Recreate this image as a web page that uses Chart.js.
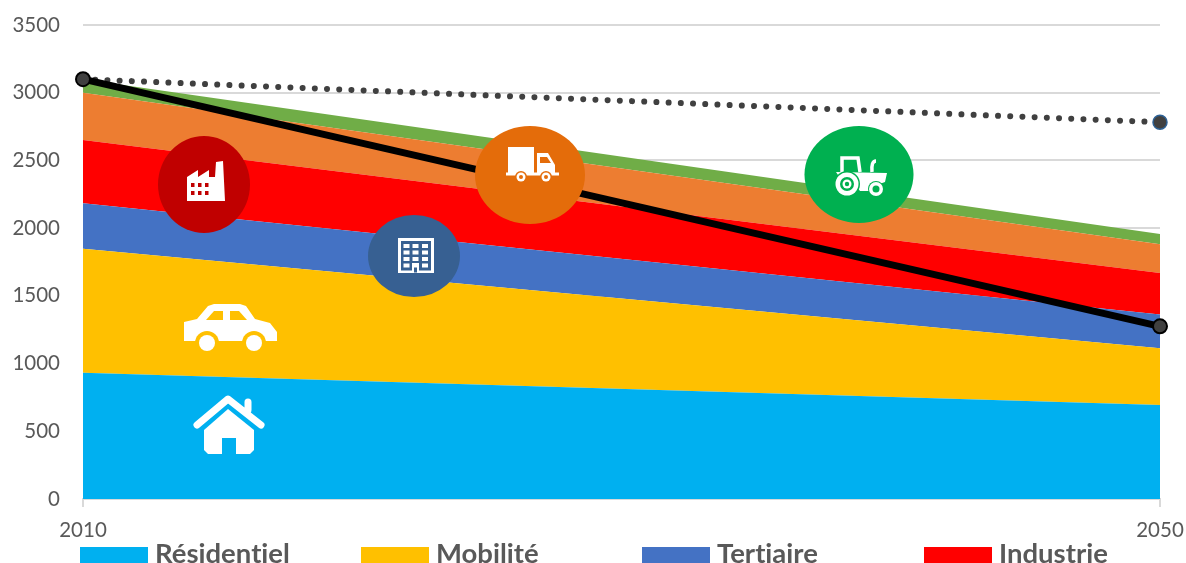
<!DOCTYPE html>
<html lang="fr">
<head>
  <meta charset="UTF-8" />
  <title>Consommation par secteur</title>
  <script src="https://cdn.jsdelivr.net/npm/chart.js"></script>
  <style>
    body {
      margin: 0;
      background: #ffffff;
      font-family: Lato, sans-serif;
      overflow: hidden;
    }

    #wrap {
      position: relative;
      width: 1186px;
      height: 563px;
    }

    canvas {
      position: absolute;
      left: 0;
      top: 0;
    }

    .legend-item {
      position: absolute;
      top: 539px;
      height: 28px;
      line-height: 28px;
      font-size: 27.5px;
      font-weight: 700;
      font-variant-ligatures: none;
      color: #595959;
      white-space: nowrap;
    }

    .legend-item i {
      display: inline-block;
      width: 68px;
      height: 17px;
      margin-right: 7px;
      vertical-align: -1px;
    }
  </style>
</head>
<body>
  <div id="wrap">
    <canvas id="chart" width="1186" height="563"></canvas>
  </div>

  <script>
    const years = ['2010', '2050'];
    const yTicks = [0, 500, 1000, 1500, 2000, 2500, 3000, 3500];

    // layers of the stack, from the bottom up
    const residentiel = [932, 695];
    const mobilite = [915, 418];
    const tertiaire = [337, 250];
    const industrie = [466, 305];
    const transport = [350, 213];
    const agriculture = [100, 75];

    const trajectoire = [3100, 1275];
    const tendanciel = [3100, 2782];

    const legendNames = ['Résidentiel', 'Mobilité', 'Tertiaire', 'Industrie'];
    const legendColors = ['#00b0f0', '#ffc000', '#4472c4', '#ff0000'];
    const legendLeft = [80, 361, 642, 924];

    legendNames.forEach((name, i) => {
      const item = document.createElement('div');
      item.className = 'legend-item';
      item.style.left = legendLeft[i] + 'px';
      item.innerHTML = `<i style="background:${legendColors[i]}"></i>${name}`;
      document.getElementById('wrap').appendChild(item);
    });

    function area(label, data, color, fill) {
      return { label, data, fill, backgroundColor: color, borderWidth: 0, pointRadius: 0, tension: 0, order: 3, stack: 'secteurs' };
    }

    function ellipse(ctx, x, y, rx, ry, color) {
      ctx.fillStyle = color;
      ctx.beginPath();
      ctx.ellipse(x, y, rx, ry, 0, 0, Math.PI * 2);
      ctx.fill();
    }

    function poly(ctx, pts, color) {
      ctx.fillStyle = color;
      ctx.beginPath();
      pts.forEach((p, i) => (i ? ctx.lineTo(p[0], p[1]) : ctx.moveTo(p[0], p[1])));
      ctx.closePath();
      ctx.fill();
    }

    function drawHouse(ctx) {
      const blue = '#00b0f0';
      ctx.strokeStyle = '#fff';
      ctx.lineCap = 'round';
      ctx.lineJoin = 'round';
      ctx.lineWidth = 7;
      ctx.beginPath();
      ctx.moveTo(197, 425);
      ctx.lineTo(228, 399);
      ctx.lineTo(261, 425);
      ctx.moveTo(248, 402);
      ctx.lineTo(248, 410);
      ctx.stroke();
      poly(ctx, [[228, 409], [254, 430], [254, 450], [250, 454], [208, 454], [204, 450], [204, 430]], '#fff');
      ctx.fillStyle = blue;
      ctx.fillRect(222, 438, 14, 16);
    }

    function drawCar(ctx) {
      const yellow = '#ffc000';
      poly(ctx, [[184, 322], [197, 319], [208, 306], [214, 304], [240, 304], [246, 306], [255, 319], [270, 323], [277, 332], [277, 341], [184, 341]], '#fff');
      poly(ctx, [[206, 320], [214, 311], [223, 311], [223, 320]], yellow);
      poly(ctx, [[230, 311], [239, 311], [247, 320], [230, 320]], yellow);
      ellipse(ctx, 207, 343, 12, 12, yellow);
      ellipse(ctx, 254, 343, 12, 12, yellow);
      ellipse(ctx, 207, 343, 8, 8, '#fff');
      ellipse(ctx, 254, 343, 8, 8, '#fff');
    }

    function drawFactory(ctx) {
      const red = '#c00000';
      ellipse(ctx, 204, 184.5, 46, 48.5, red);
      poly(ctx, [[187, 201], [187, 177], [198, 170], [198, 177], [209, 170], [209, 177], [215, 177], [216, 162], [223, 161], [225, 201]], '#fff');
      ctx.fillStyle = red;
      [191, 198, 205].forEach((x) => {
        ctx.fillRect(x, 183, 3.5, 4);
        ctx.fillRect(x, 191, 3.5, 4);
      });
    }

    function drawBuilding(ctx) {
      const blue = '#376092';
      ellipse(ctx, 414, 256, 46, 41, blue);
      ctx.fillStyle = '#fff';
      ctx.fillRect(398, 238, 36, 35);
      ctx.fillStyle = blue;
      ctx.fillRect(401, 241, 30, 29.5);
      ctx.fillStyle = '#fff';
      [403.5, 412.5, 422].forEach((x) => {
        [244, 250.5, 257, 263.5].forEach((y) => ctx.fillRect(x, y, 6, 4));
      });
      ctx.fillRect(412, 263, 7, 10);
      ctx.fillStyle = blue;
      ctx.fillRect(414, 267.5, 3, 5);
    }

    function drawTruck(ctx) {
      const orange = '#e46c0a';
      ellipse(ctx, 530, 175, 55, 49, orange);
      ctx.fillStyle = '#fff';
      ctx.fillRect(508, 147, 26, 26);
      poly(ctx, [[537, 153], [548, 153], [555, 165], [555, 174], [537, 174]], '#fff');
      poly(ctx, [[540, 157], [547, 157], [551, 163], [540, 163]], orange);
      ctx.fillStyle = '#fff';
      ctx.fillRect(506, 172.5, 53, 3);
      [521, 546].forEach((x) => {
        ellipse(ctx, x, 177, 6, 6, orange);
        ellipse(ctx, x, 177, 4.5, 4.5, '#fff');
        ellipse(ctx, x, 177, 2, 2, orange);
      });
    }

    function drawTractor(ctx) {
      const green = '#00b050';
      ellipse(ctx, 859, 174.5, 54.5, 48.5, green);
      ctx.strokeStyle = '#fff';
      ctx.lineWidth = 3.5;
      ctx.lineJoin = 'miter';
      ctx.lineCap = 'butt';
      ctx.beginPath();
      ctx.moveTo(842, 172);
      ctx.lineTo(842, 158);
      ctx.lineTo(858, 158);
      ctx.lineTo(860, 172);
      ctx.stroke();
      poly(ctx, [[836, 172], [887, 173], [885, 182], [874, 186], [874, 191], [860, 191], [852, 180], [840, 178]], '#fff');
      ctx.beginPath();
      ctx.moveTo(872, 172);
      ctx.quadraticCurveTo(871, 161, 876, 161);
      ctx.stroke();
      ellipse(ctx, 847, 184, 13, 13, green);
      ellipse(ctx, 847, 184, 11.5, 11.5, '#fff');
      ellipse(ctx, 847, 184, 7, 7, green);
      ellipse(ctx, 847, 184, 4.5, 4.5, '#fff');
      ellipse(ctx, 847, 184, 2.2, 2.2, green);
      ellipse(ctx, 876, 189, 8, 8, green);
      ellipse(ctx, 876, 189, 7, 7, '#fff');
      ellipse(ctx, 876, 189, 3.5, 3.5, green);
    }

    // round badges and white pictograms sit above all the series
    const pictos = {
      id: 'pictos',
      afterDraw(chart) {
        const ctx = chart.ctx;
        ctx.save();
        drawHouse(ctx);
        drawCar(ctx);
        drawFactory(ctx);
        drawBuilding(ctx);
        drawTruck(ctx);
        drawTractor(ctx);
        ctx.restore();
      }
    };

    new Chart(document.getElementById('chart'), {
      type: 'line',
      plugins: [pictos],
      data: {
        labels: years,
        datasets: [
          area('Résidentiel', residentiel, '#00b0f0', 'origin'),
          area('Mobilité', mobilite, '#ffc000', '-1'),
          area('Tertiaire', tertiaire, '#4472c4', '-1'),
          area('Industrie', industrie, '#ff0000', '-1'),
          area('Transport', transport, '#ed7d31', '-1'),
          area('Agriculture', agriculture, '#70ad47', '-1'),
          {
            label: 'Tendanciel',
            data: tendanciel,
            stack: 'tendanciel',
            order: 2,
            fill: false,
            clip: false,
            tension: 0,
            borderColor: '#404040',
            borderWidth: 6,
            borderCapStyle: 'round',
            borderDash: [0.01, 12.2],
            pointRadius: [0, 7],
            pointBackgroundColor: '#404040',
            pointBorderColor: '#2e6296',
            pointBorderWidth: 1.5
          },
          {
            label: 'Trajectoire',
            data: trajectoire,
            stack: 'trajectoire',
            order: 1,
            fill: false,
            clip: false,
            tension: 0,
            borderColor: '#000000',
            borderWidth: 7,
            pointRadius: 7,
            pointBackgroundColor: '#404040',
            pointBorderColor: '#000000',
            pointBorderWidth: 2
          }
        ]
      },
      options: {
        responsive: false,
        animation: false,
        events: [],
        layout: { padding: { left: 0, right: 26, top: 25, bottom: 16 } },
        plugins: { legend: { display: false }, tooltip: { enabled: false } },
        scales: {
          x: {
            offset: false,
            afterFit(scale) {
              scale.height = 48;
              scale.paddingLeft = 0;
              scale.paddingRight = 0;
            },
            border: { color: '#d9d9d9', width: 2 },
            grid: { drawOnChartArea: false, color: '#d9d9d9', lineWidth: 2, tickLength: 8 },
            ticks: { color: '#595959', font: { family: 'Lato', size: 20.5 }, padding: 11, maxRotation: 0, autoSkip: false }
          },
          y: {
            stacked: true,
            min: 0,
            max: 3500,
            afterFit(scale) {
              scale.width = 83;
              scale.paddingTop = 0;
              scale.paddingBottom = 0;
            },
            afterBuildTicks(scale) { scale.ticks = yTicks.map((value) => ({ value })); },
            border: { display: false },
            grid: { color: '#d9d9d9', lineWidth: 2, drawTicks: false },
            ticks: { color: '#595959', font: { family: 'Lato', size: 20.5 }, padding: 23, callback: (value) => String(value) }
          }
        }
      }
    });
  </script>
</body>
</html>
